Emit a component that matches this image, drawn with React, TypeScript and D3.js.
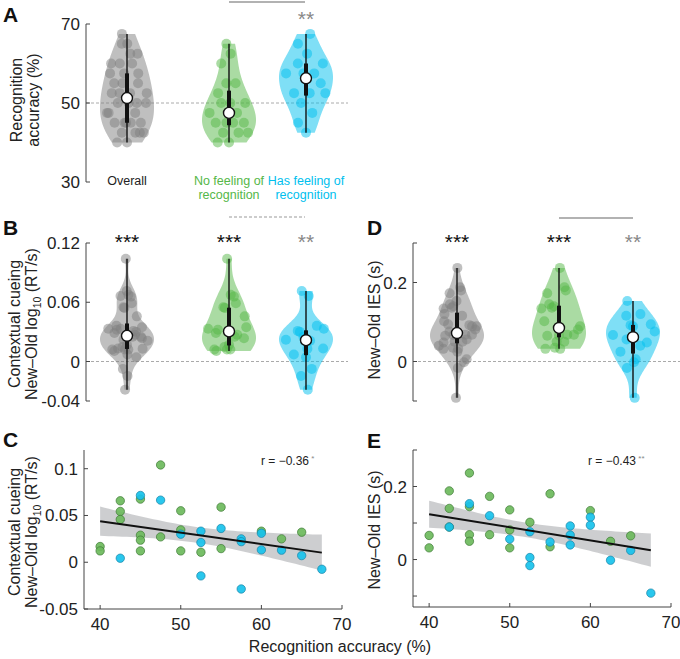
import React from 'react';
import * as d3 from 'd3';

// ---------- DATA ----------
const greenAcc = [40, 40, 42.5, 42.5, 42.5, 45, 45, 45, 45, 47.5, 47.5, 50, 50, 50, 52.5, 55, 55, 60, 62.5, 65];
const greenCue = [0.0168, 0.0121, 0.0657, 0.0543, 0.0457, 0.0675, 0.0289, 0.0236, 0.0121, 0.104, 0.0271, 0.055, 0.0346, 0.0121, 0.0107, 0.0589, 0.0146, 0.0332, 0.025, 0.0321];
const greenIes = [0.066, 0.032, 0.188, 0.14, 0.089, 0.237, 0.145, 0.068, 0.05, 0.173, 0.068, 0.136, 0.081, 0.032, 0.102, 0.18, 0.035, 0.134, 0.05, 0.065];
const cyanAcc = [42.5, 45, 47.5, 50, 52.5, 52.5, 52.5, 55, 57.5, 57.5, 57.5, 60, 60, 62.5, 65, 67.5];
const cyanCue = [0.0043, 0.0714, 0.0664, 0.03, 0.0332, 0.0211, -0.0146, 0.0361, 0.025, 0.022, -0.0286, 0.031, 0.0132, 0.0129, 0.0071, -0.0075];
const cyanIes = [0.089, 0.153, 0.12, 0.056, 0.076, 0.0055, -0.0166, 0.048, 0.092, 0.067, 0.04, 0.116, 0.094, -0.002, 0.025, -0.092];

const groupLabels = [['Overall'], ['No feeling of', 'recognition'], ['Has feeling of', 'recognition']];
const accTicks = [30, 50, 70];
const cueTicks = [-0.04, 0, 0.06, 0.12];
const iesTicks = [-0.1, 0, 0.2, 0.3];
const iesTickLabels = [0, 0.2];
const scatCueTicks = [-0.05, 0, 0.05, 0.1];
const scatIesTicks = [-0.1, 0, 0.1, 0.2, 0.3];
const scatXTicks = [40, 50, 60, 70];
const starsA = ['', '', '**'];
const starsB = ['***', '***', '**'];
const starsD = ['***', '***', '**'];
const rC = '\u22120.36';
const rE = '\u22120.43';

// ---------- STYLE ----------
const FONT = "'Liberation Sans', Arial, sans-serif";
const GRAY = '#808080';
const GREEN = '#55b748';
const CYAN = '#00c0ee';
const groupColors = [GRAY, GREEN, CYAN];
const AX = '#444';

function violinParts(values: number[], y: d3.ScaleLinear<number, number>, cx: number, halfW: number, color: string, key: string) {
  const n = values.length;
  const sorted = values.slice().sort(d3.ascending);
  const med = d3.median(sorted) as number;
  const mad = d3.median(sorted.map(v => Math.abs(v - med))) as number;
  const sig = mad / 0.6745;
  const h = sig * Math.pow(4 / (3 * n), 0.2);
  const mn = sorted[0], mx = sorted[n - 1];
  const dens = (g: number) => d3.sum(values, v => Math.exp(-0.5 * ((g - v) / h) ** 2));
  const grid = d3.range(0, 121).map(i => mn + (mx - mn) * i / 120);
  const dv = grid.map(g => [g, dens(g)] as [number, number]);
  const maxD = d3.max(dv, d => d[1]) as number;
  const area = d3.area<[number, number]>()
    .x0(d => cx - d[1] / maxD * halfW)
    .x1(d => cx + d[1] / maxD * halfW)
    .y(d => y(d[0]))
    .curve(d3.curveLinear);
  const q1 = d3.quantile(sorted, 0.25) as number;
  const q3 = d3.quantile(sorted, 0.75) as number;
  const pts = values.map((v, i) => {
    const u = ((i * 0.6180339887 + 0.5) % 1) * 2 - 1;
    const w = dens(v) / maxD * halfW * 0.85;
    return <circle key={key + 'p' + i} cx={cx + u * w} cy={y(v)} r={5} fill={color} fillOpacity={0.5} />;
  });
  return (
    <g key={key}>
      <path d={area(dv) as string} fill={color} fillOpacity={0.5} />
      {pts}
      <line x1={cx} x2={cx} y1={y(mn)} y2={y(mx)} stroke="#111" strokeWidth={1.4} />
      <line x1={cx} x2={cx} y1={y(q1)} y2={y(q3)} stroke="#111" strokeWidth={4} />
      <circle cx={cx} cy={y(med)} r={5.5} fill="#fff" stroke="#111" strokeWidth={1.4} />
    </g>
  );
}

function YAxis({ x, y, ticks, labels }: { x: number; y: d3.ScaleLinear<number, number>; ticks: number[]; labels?: number[] }) {
  const [d0, d1] = y.domain();
  const lab = labels ?? ticks;
  return (
    <g>
      <line x1={x} x2={x} y1={y(d0)} y2={y(d1)} stroke={AX} strokeWidth={1} />
      {ticks.map((t, i) => (
        <line key={'t' + i} x1={x} x2={x + 4} y1={y(t)} y2={y(t)} stroke={AX} strokeWidth={1} />
      ))}
      {lab.map((t, i) => (
        <text key={'l' + i} x={x - 6} y={y(t) + 6} textAnchor="end" fontSize={17} fill="#222" fontFamily={FONT}>
          {String(t)}
        </text>
      ))}
    </g>
  );
}

function XAxis({ y0, x, ticks }: { y0: number; x: d3.ScaleLinear<number, number>; ticks: number[] }) {
  const [d0, d1] = x.domain();
  return (
    <g>
      <line x1={x(d0)} x2={x(d1)} y1={y0} y2={y0} stroke={AX} strokeWidth={1} />
      {ticks.map((t, i) => (
        <line key={'t' + i} x1={x(t)} x2={x(t)} y1={y0} y2={y0 - 4} stroke={AX} strokeWidth={1} />
      ))}
      {ticks.map((t, i) => (
        <text key={'l' + i} x={x(t)} y={y0 + 21} textAnchor="middle" fontSize={17} fill="#222" fontFamily={FONT}>
          {t}
        </text>
      ))}
    </g>
  );
}

function RotLabel({ x, y, children, size = 16 }: { x: number; y: number; children: React.ReactNode; size?: number }) {
  return (
    <text transform={`translate(${x},${y}) rotate(-90)`} textAnchor="middle" fontSize={size} fill="#222" fontFamily={FONT}>
      {children}
    </text>
  );
}

function CueTitle({ x1, x2, y }: { x1: number; x2: number; y: number }) {
  return (
    <g>
      <RotLabel x={x1} y={y}>Contextual cueing</RotLabel>
      <RotLabel x={x2} y={y}>
        <tspan>New–Old log</tspan>
        <tspan fontSize={10.5} dy={4}>10</tspan>
        <tspan dy={-4}> (RT/s)</tspan>
      </RotLabel>
    </g>
  );
}

function regression(xs: number[], ys: number[], xsx: d3.ScaleLinear<number, number>, ysy: d3.ScaleLinear<number, number>) {
  const n = xs.length;
  const mx = d3.mean(xs) as number;
  const my = d3.mean(ys) as number;
  const sxx = d3.sum(xs, v => (v - mx) ** 2);
  const sxy = d3.sum(xs.map((v, i) => (v - mx) * (ys[i] - my)));
  const b = sxy / sxx;
  const a = my - b * mx;
  const resid = d3.sum(xs.map((v, i) => (ys[i] - (a + b * v)) ** 2));
  const s = Math.sqrt(resid / (n - 2));
  const t = 2.032;
  const x0 = d3.min(xs) as number, x1 = d3.max(xs) as number;
  const grid = d3.range(0, 51).map(i => x0 + (x1 - x0) * i / 50);
  const band = d3.area<number>()
    .x(d => xsx(d))
    .y0(d => ysy(a + b * d - t * s * Math.sqrt(1 / n + (d - mx) ** 2 / sxx)))
    .y1(d => ysy(a + b * d + t * s * Math.sqrt(1 / n + (d - mx) ** 2 / sxx)));
  return { a, b, x0, x1, band: band(grid) as string };
}

function Scatter({ xs, ys, cls, xS, yS }: { xs: number[]; ys: number[]; cls: number[]; xS: d3.ScaleLinear<number, number>; yS: d3.ScaleLinear<number, number> }) {
  const reg = regression(xs, ys, xS, yS);
  return (
    <g>
      <path d={reg.band} fill="#c4c6c8" fillOpacity={0.85} />
      {xs.map((x, i) => (
        <circle key={i} cx={xS(x)} cy={yS(ys[i])} r={4.2}
          fill={cls[i] === 1 ? '#6dba5c' : '#17c2ec'} fillOpacity={0.92}
          stroke={cls[i] === 1 ? '#3d7a35' : '#1a84a6'} strokeWidth={0.7} />
      ))}
      <line x1={xS(reg.x0)} x2={xS(reg.x1)} y1={yS(reg.a + reg.b * reg.x0)} y2={yS(reg.a + reg.b * reg.x1)} stroke="#111" strokeWidth={2} />
    </g>
  );
}

export default function App() {
  const allAcc = greenAcc.concat(cyanAcc);
  const allCue = greenCue.concat(cyanCue);
  const allIes = greenIes.concat(cyanIes);
  const allCls = greenAcc.map(() => 1).concat(cyanAcc.map(() => 2));

  const catA = [127, 229, 306];
  const catD = [457, 559, 633];
  const yA = d3.scaleLinear().domain([30, 70]).range([182, 24]);
  const yB = d3.scaleLinear().domain([-0.04, 0.12]).range([401, 243]);
  const yD = d3.scaleLinear().domain([-0.1, 0.3]).range([401, 243]);
  const xC = d3.scaleLinear().domain([38, 70]).range([84, 342]);
  const yC = d3.scaleLinear().domain([-0.05, 0.12]).range([609, 450]);
  const xE = d3.scaleLinear().domain([38, 70]).range([413, 671]);
  const yE = d3.scaleLinear().domain([-0.13, 0.3]).range([607, 450]);

  const groupsAcc = [allAcc, greenAcc, cyanAcc];
  const groupsCue = [allCue, greenCue, cyanCue];
  const groupsIes = [allIes, greenIes, cyanIes];
  const HW = 27;

  const letter = (t: string, x: number, y: number) => (
    <text x={x} y={y} fontSize={21} fontWeight="bold" fill="#111" fontFamily={FONT}>{t}</text>
  );
  const starText = (s: string, i: number, x: number, y: number) => (
    <text key={'s' + i + x} x={x} y={y} textAnchor="middle" fontSize={21} fill={i === 2 ? '#888' : '#111'} fontFamily={FONT}>{s}</text>
  );

  return (
    <svg width={680} height={659} style={{ position: 'absolute', left: 0, top: 0, background: '#fff' }}>
      {/* Panel A */}
      {letter('A', 3, 22)}
      <RotLabel x={22} y={100}>Recognition</RotLabel>
      <RotLabel x={39} y={100}>accuracy (%)</RotLabel>
      <line x1={86} x2={348} y1={yA(50)} y2={yA(50)} stroke="#aaa" strokeDasharray="3,2" />
      <YAxis x={86} y={yA} ticks={accTicks} />
      {groupsAcc.map((g, i) => violinParts(g, yA, catA[i], HW, groupColors[i], 'a' + i))}
      <line x1={229} x2={305} y1={2} y2={2} stroke="#999" strokeWidth={1.5} />
      {starsA.map((s, i) => starText(s, i, catA[i], 26))}
      {groupLabels.map((lines, i) => (
        <text key={'gl' + i} x={catA[i]} y={185} textAnchor="middle" fontSize={12.5} fill={i === 0 ? '#222' : groupColors[i]} fontFamily={FONT}>
          {lines.map((l, j) => <tspan key={j} x={catA[i]} dy={j === 0 ? 0 : 14}>{l}</tspan>)}
        </text>
      ))}

      {/* Panel B */}
      {letter('B', 3, 235)}
      <CueTitle x1={20} x2={37} y={324} />
      <line x1={86} x2={348} y1={yB(0)} y2={yB(0)} stroke="#aaa" strokeDasharray="3,2" />
      <YAxis x={86} y={yB} ticks={cueTicks} />
      {groupsCue.map((g, i) => violinParts(g, yB, catA[i], HW, groupColors[i], 'b' + i))}
      <line x1={229} x2={305} y1={217} y2={217} stroke="#999" strokeWidth={1.2} strokeDasharray="3,2" />
      {starsB.map((s, i) => starText(s, i, catA[i], 249))}

      {/* Panel D */}
      {letter('D', 367, 235)}
      <RotLabel x={380} y={320}>New–Old IES (s)</RotLabel>
      <line x1={413} x2={680} y1={yD(0)} y2={yD(0)} stroke="#aaa" strokeDasharray="3,2" />
      <YAxis x={413} y={yD} ticks={iesTicks} labels={iesTickLabels} />
      {groupsIes.map((g, i) => violinParts(g, yD, catD[i], HW, groupColors[i], 'd' + i))}
      <line x1={559} x2={633} y1={218} y2={218} stroke="#999" strokeWidth={1.5} />
      {starsD.map((s, i) => starText(s, i, catD[i], 249))}

      {/* Panel C */}
      {letter('C', 3, 447)}
      <CueTitle x1={20} x2={37} y={532} />
      <YAxis x={84} y={yC} ticks={scatCueTicks} />
      <XAxis y0={609} x={xC} ticks={scatXTicks} />
      <Scatter xs={allAcc} ys={allCue} cls={allCls} xS={xC} yS={yC} />
      <text x={261} y={465} fontSize={12} fill="#222" fontFamily={FONT}>
        r  = {rC}<tspan fontSize={8} dy={-4} fill="#888"> *</tspan>
      </text>

      {/* Panel E */}
      {letter('E', 367, 448)}
      <RotLabel x={380} y={530}>New–Old IES (s)</RotLabel>
      <YAxis x={413} y={yE} ticks={scatIesTicks} labels={iesTickLabels} />
      <XAxis y0={607} x={xE} ticks={scatXTicks} />
      <Scatter xs={allAcc} ys={allIes} cls={allCls} xS={xE} yS={yE} />
      <text x={588} y={465} fontSize={12} fill="#222" fontFamily={FONT}>
        r  = {rE}<tspan fontSize={8} dy={-4} fill="#888"> **</tspan>
      </text>

      <text x={340} y={652} textAnchor="middle" fontSize={16} fill="#222" fontFamily={FONT}>Recognition accuracy (%)</text>
    </svg>
  );
}
